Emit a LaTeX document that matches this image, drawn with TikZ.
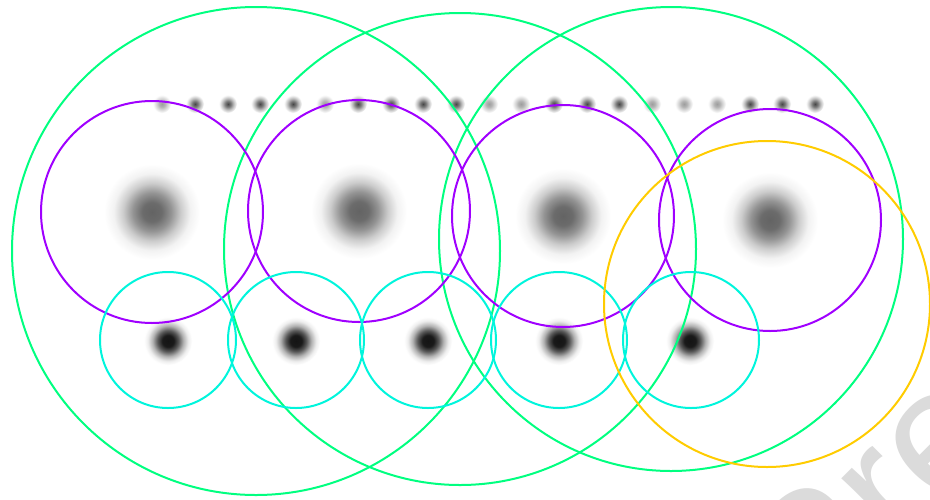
\documentclass[tikz,border=0pt]{standalone}
\usepackage{fontspec}
\usepackage{xcolor}
\newfontfamily\markfont{Liberation Sans}
\definecolor{RingGreen}{HTML}{00FF80}
\definecolor{RingPurple}{HTML}{A000FF}
\definecolor{RingCyan}{HTML}{00F5DC}
\definecolor{RingYellow}{HTML}{FFCC00}
\pgfdeclareradialshading{bigblob}{\pgfpoint{0bp}{0bp}}{color(0bp)=(black!61); color(5bp)=(black!58); color(10bp)=(black!42); color(15bp)=(black!20); color(20bp)=(black!5); color(25bp)=(white); color(50bp)=(white)}
\pgfdeclareradialshading{smallblob}{\pgfpoint{0bp}{0bp}}{color(0bp)=(black!92); color(6bp)=(black!90); color(11bp)=(black!65); color(16bp)=(black!30); color(21bp)=(black!7); color(25bp)=(white); color(50bp)=(white)}
\pgfdeclareradialshading{darkdot}{\pgfpoint{0bp}{0bp}}{color(0bp)=(black!72); color(8bp)=(black!52); color(16bp)=(black!24); color(25bp)=(white); color(50bp)=(white)}
\pgfdeclareradialshading{lightdot}{\pgfpoint{0bp}{0bp}}{color(0bp)=(black!38); color(8bp)=(black!30); color(16bp)=(black!15); color(25bp)=(white); color(50bp)=(white)}

\begin{document}
\begin{tikzpicture}[x=1pt, y=-1pt, line width=2pt]
  \useasboundingbox (0,0) rectangle (930,499);
  \clip (0,0) rectangle (930,499);
  \fill[white] (0,0) rectangle (930,499);
  \node[font=\markfont\fontsize{180}{180}\selectfont, text=black!14, rotate=45,
        anchor=base west, inner sep=0pt] (wmark) at (815,640) {Preprint};
  % blurred spots
  \foreach \x/\y in {152/212, 359/211, 563/216, 770/220}
    \shade[shading=bigblob] (\x,\y) circle[radius=48pt];
  \foreach \x in {168, 296, 428, 559, 690}
    \shade[shading=smallblob] (\x,341) circle[radius=24pt];
  \foreach \x in {195, 228, 260, 293, 358, 391, 423, 456, 554, 587, 619, 750, 782, 815}
    \shade[shading=darkdot] (\x,104) circle[radius=9pt];
  \foreach \x in {162, 325, 489, 521, 652, 684, 717}
    \shade[shading=lightdot] (\x,104) circle[radius=9pt];
  % rings
  \foreach \x/\y/\r in {256/251/244, 460/249/236, 671/239/232}
    \draw[RingGreen] (\x,\y) circle[radius=\r pt];
  \foreach \x/\y in {152/212, 359/211, 563/216, 770/220}
    \draw[RingPurple] (\x,\y) circle[radius=111pt];
  \foreach \x in {168, 296, 428, 559, 691}
    \draw[RingCyan] (\x,340) circle[radius=68pt];
  \draw[RingYellow] (767,304) circle[radius=163pt];
\end{tikzpicture}
\end{document}
